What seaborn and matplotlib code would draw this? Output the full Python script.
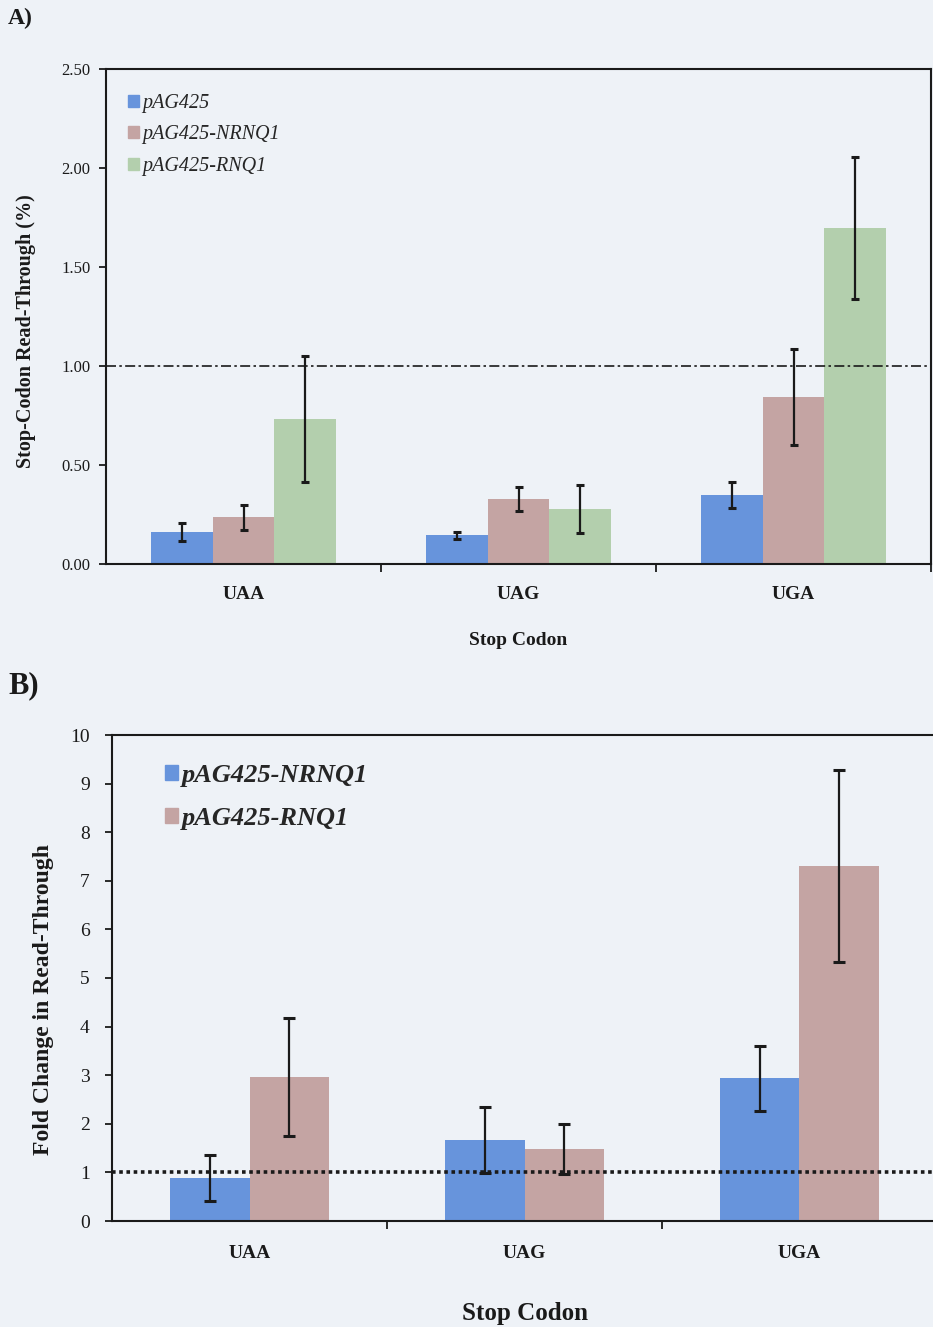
import numpy as np
import pandas as pd
import matplotlib
matplotlib.use("Agg")
import matplotlib.pyplot as plt
import seaborn as sns

# ---------------- data ----------------
codons = ["UAA", "UAG", "UGA"]

a_series = ["pAG425", "pAG425-NRNQ1", "pAG425-RNQ1"]
a_pag425 = [0.16, 0.145, 0.35]
a_pag425_err = [0.046, 0.018, 0.066]
a_nrnq1 = [0.237, 0.328, 0.843]
a_nrnq1_err = [0.063, 0.06, 0.243]
a_rnq1 = [0.732, 0.278, 1.697]
a_rnq1_err = [0.318, 0.12, 0.36]

b_series = ["pAG425-NRNQ1", "pAG425-RNQ1"]
b_nrnq1 = [0.88, 1.67, 2.94]
b_nrnq1_err = [0.47, 0.68, 0.67]
b_rnq1 = [2.96, 1.48, 7.30]
b_rnq1_err = [1.21, 0.51, 1.97]

a_ticks = [0.0, 0.5, 1.0, 1.5, 2.0, 2.5]
b_ticks = list(range(0, 11))

# ---------------- style ----------------
sns.set_theme(style="white")
bg = "#eef2f7"
plt.rcParams["font.family"] = ["Liberation Serif", "DejaVu Serif"]
plt.rcParams["axes.facecolor"] = bg
plt.rcParams["figure.facecolor"] = bg
ink = "#1a1a1a"

blue = "#6794dc"
pink = "#c4a4a3"
green = "#b3cfad"

W, H = 933, 1327
fig = plt.figure(figsize=(W / 100, H / 100), dpi=100)

def fig_axes(left, top, right, bottom):
    return fig.add_axes([left / W, 1 - bottom / H, (right - left) / W, (bottom - top) / H])

axA = fig_axes(106, 69, 931, 564)
axB = fig_axes(112, 735, 937, 1221)

# ---------------- panel A ----------------
dfA = pd.DataFrame({
    "codon": codons * 3,
    "construct": sum([[s] * 3 for s in a_series], []),
    "value": a_pag425 + a_nrnq1 + a_rnq1,
})
errA = [a_pag425_err, a_nrnq1_err, a_rnq1_err]
sns.barplot(data=dfA, x="codon", y="value", hue="construct", order=codons,
            hue_order=a_series, palette=[blue, pink, green], width=0.672,
            errorbar=None, ax=axA, linewidth=0, saturation=1, legend=False)
for cont, errs in zip(axA.containers, errA):
    xs = [b.get_x() + b.get_width() / 2 for b in cont]
    hs = [b.get_height() for b in cont]
    axA.errorbar(xs, hs, yerr=errs, fmt="none", ecolor=ink, elinewidth=1.6,
                 capsize=3.2, capthick=2.2, zorder=5)

axA.axhline(1.0, color=ink, lw=1.2, ls=(0, (6, 2, 1.5, 2)), zorder=4)
axA.set_ylim(0, 2.5)
axA.set_xlim(-0.5, 2.5)
axA.set_yticks(a_ticks)
axA.set_yticklabels([f"{t:.2f}" for t in a_ticks], fontsize=12, color=ink)
axA.set_xticks([0.5, 1.5, 2.5])
axA.set_xticklabels([])
axA.set_xticks([0, 1, 2], minor=True)
axA.set_xticklabels(codons, minor=True, fontsize=14, fontweight="bold", color=ink)
axA.tick_params(axis="x", which="major", direction="out", length=6, width=1.3, color=ink, bottom=True)
axA.tick_params(axis="x", which="minor", length=0, pad=16, bottom=True)
axA.tick_params(axis="y", direction="out", length=5, width=1.3, color=ink, pad=6, left=True)
for s in axA.spines.values():
    s.set_visible(True)
    s.set_color(ink)
    s.set_linewidth(1.5)
axA.set_xlabel("Stop Codon", fontsize=14, fontweight="bold", color=ink, labelpad=21)
axA.set_ylabel("Stop-Codon Read-Through (%)", fontsize=14.5, fontweight="bold", color=ink)
axA.yaxis.set_label_coords(-0.085, 0.47)

hA = [plt.Rectangle((0, 0), 1, 1, color=c) for c in [blue, pink, green]]
axA.legend(hA, a_series, loc="upper left", bbox_to_anchor=(128 / W, 1 - 94 / H),
           bbox_transform=fig.transFigure, frameon=False, borderpad=0, borderaxespad=0,
           handlelength=0.55, handleheight=0.55, handletextpad=0.15,
           labelspacing=0.62, prop={"family": "Liberation Serif", "style": "italic", "size": 14.5})

# ---------------- panel B ----------------
dfB = pd.DataFrame({
    "codon": codons * 2,
    "construct": sum([[s] * 3 for s in b_series], []),
    "value": b_nrnq1 + b_rnq1,
})
errB = [b_nrnq1_err, b_rnq1_err]
sns.barplot(data=dfB, x="codon", y="value", hue="construct", order=codons,
            hue_order=b_series, palette=[blue, pink], width=0.575,
            errorbar=None, ax=axB, linewidth=0, saturation=1, legend=False)
for cont, errs in zip(axB.containers, errB):
    xs = [b.get_x() + b.get_width() / 2 for b in cont]
    hs = [b.get_height() for b in cont]
    axB.errorbar(xs, hs, yerr=errs, fmt="none", ecolor=ink, elinewidth=1.6,
                 capsize=4, capthick=2.2, zorder=5)

axB.axhline(1.0, color=ink, lw=2.6, ls=(0, (1, 1)), zorder=4)
axB.set_ylim(0, 10)
axB.set_xlim(-0.5, 2.5)
axB.set_yticks(b_ticks)
axB.set_yticklabels([str(t) for t in b_ticks], fontsize=14, color=ink)
axB.set_xticks([0.5, 1.5])
axB.set_xticklabels([])
axB.set_xticks([0, 1, 2], minor=True)
axB.set_xticklabels(codons, minor=True, fontsize=14, fontweight="bold", color=ink)
axB.tick_params(axis="x", which="major", direction="out", length=6, width=1.3, color=ink, bottom=True)
axB.tick_params(axis="x", which="minor", length=0, pad=17, bottom=True)
axB.tick_params(axis="y", direction="out", length=5, width=1.3, color=ink, pad=11, left=True)
for name, s in axB.spines.items():
    s.set_visible(name != "right")
    s.set_color(ink)
    s.set_linewidth(1.5)
axB.set_xlabel("Stop Codon", fontsize=18, fontweight="bold", color=ink, labelpad=29)
axB.set_ylabel("Fold Change in Read-Through", fontsize=17, fontweight="bold", color=ink)
axB.yaxis.set_label_coords(-0.070, 0.455)

hB = [plt.Rectangle((0, 0), 1, 1, color=c) for c in [blue, pink]]
axB.legend(hB, b_series, loc="upper left", bbox_to_anchor=(165 / W, 1 - 764 / H),
           bbox_transform=fig.transFigure, frameon=False, borderpad=0, borderaxespad=0,
           handlelength=0.5, handleheight=0.5, handletextpad=0.15,
           labelspacing=0.74,
           prop={"family": "Liberation Serif", "style": "italic", "weight": "bold", "size": 19})

# panel letters
fig.text(8 / W, 1 - 18 / H, "A)", fontsize=17, fontweight="bold", color=ink, va="center", ha="left")
fig.text(8 / W, 1 - 686 / H, "B)", fontsize=22, fontweight="bold", color=ink, va="center", ha="left")

fig.savefig("out.png", dpi=100, facecolor=bg)
